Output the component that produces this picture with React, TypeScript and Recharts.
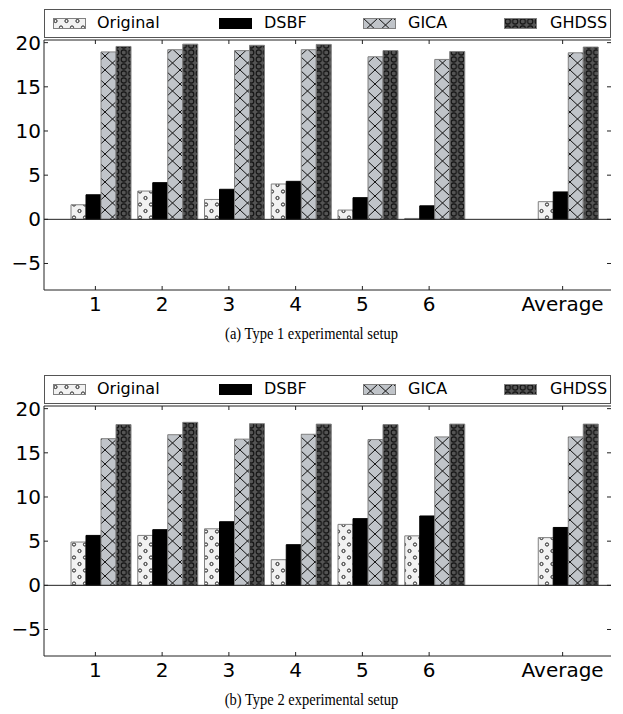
import { BarChart, Bar, XAxis, YAxis, ReferenceLine } from "recharts";

const categories = ["1", "2", "3", "4", "5", "6", "", "Average"];

const type1Original = [1.65, 3.2, 2.25, 4.0, 1.05, 0.1, null, 2.0];
const type1DSBF = [2.78, 4.15, 3.4, 4.3, 2.45, 1.53, null, 3.1];
const type1GICA = [18.95, 19.2, 19.1, 19.2, 18.4, 18.1, null, 18.85];
const type1GHDSS = [19.57, 19.83, 19.7, 19.8, 19.1, 19.0, null, 19.5];

const type2Original = [4.9, 5.65, 6.4, 2.9, 6.9, 5.6, null, 5.4];
const type2DSBF = [5.65, 6.3, 7.2, 4.6, 7.55, 7.85, null, 6.55];
const type2GICA = [16.6, 17.05, 16.55, 17.1, 16.5, 16.8, null, 16.8];
const type2GHDSS = [18.2, 18.45, 18.3, 18.25, 18.2, 18.25, null, 18.25];

const yTicks = [-5, 0, 5, 10, 15, 20];
const seriesNames = ["Original", "DSBF", "GICA", "GHDSS"];

// plot box (matches the chart margins below)
const PL = 44;
const PR = 611;
const PT = 40;
const PB = 290;

const FONT = "DejaVu Sans";
const SPINE = "#222";

const fills: Record<string, string> = {
  Original: "url(#hOrig)",
  DSBF: "#000",
  GICA: "url(#hCross)",
  GHDSS: "url(#hRing)",
};

function buildRows(o: (number | null)[], d: (number | null)[], g: (number | null)[], h: (number | null)[]) {
  return categories.map((c, i) => ({
    name: c,
    Original: o[i],
    DSBF: d[i],
    GICA: g[i],
    GHDSS: h[i],
  }));
}

function XTick(props: any) {
  const { x, y, payload } = props;
  if (!payload.value) return null;
  const tx = x - 6;
  return (
    <g>
      <line x1={tx} x2={tx} y1={PB} y2={PB - 4} stroke={SPINE} />
      <line x1={tx} x2={tx} y1={PT} y2={PT + 4} stroke={SPINE} />
      <text x={tx} y={y + 17} textAnchor="middle" fontSize={20} fontFamily={FONT} fill="#000">
        {payload.value}
      </text>
    </g>
  );
}

function YTick(props: any) {
  const { x, y, payload } = props;
  const v = payload.value as number;
  const label = v < 0 ? "\u2212" + Math.abs(v) : String(v);
  return (
    <g>
      <line x1={PL} x2={PL + 4} y1={y} y2={y} stroke={SPINE} />
      <line x1={PR - 4} x2={PR} y1={y} y2={y} stroke={SPINE} />
      <text x={x} y={y + 7} textAnchor="end" fontSize={20} fontFamily={FONT} fill="#000">
        {label}
      </text>
    </g>
  );
}

function Patterns() {
  return (
    <svg width={0} height={0} style={{ position: "absolute" }}>
      <defs>
        <pattern id="hOrig" patternUnits="userSpaceOnUse" width={11} height={13}>
          <rect width={11} height={13} fill="#f2f2f2" />
          <circle cx={2.5} cy={3} r={1.6} fill="none" stroke="#222" strokeWidth={1} />
          <circle cx={8} cy={9.5} r={1.6} fill="none" stroke="#222" strokeWidth={1} />
        </pattern>
        <pattern id="hCross" patternUnits="userSpaceOnUse" width={15} height={14}>
          <rect width={15} height={14} fill="#c0c4c9" />
          <line x1={0} y1={0} x2={15} y2={14} stroke="#111" strokeWidth={1} />
          <line x1={15} y1={0} x2={0} y2={14} stroke="#111" strokeWidth={1} />
        </pattern>
        <pattern id="hRing" patternUnits="userSpaceOnUse" width={7.5} height={7}>
          <rect width={7.5} height={7} fill="#555" />
          <circle cx={3.75} cy={3.5} r={2.6} fill="none" stroke="#111" strokeWidth={1.1} />
        </pattern>
      </defs>
    </svg>
  );
}

const legendSwatchX = [8, 174, 318, 459];
const legendTextX = [52, 219, 363, 505];

function LegendBox() {
  return (
    <div
      style={{
        position: "absolute",
        left: PL,
        top: 9,
        width: PR - PL - 2,
        height: 27,
        border: "1px solid #555",
        background: "#fff",
        fontFamily: FONT,
        fontSize: 16,
      }}
    >
      {seriesNames.map((n, i) => (
        <div key={n}>
          <svg
            width={33}
            height={11}
            style={{ position: "absolute", left: legendSwatchX[i], top: 8 }}
          >
            <rect
              x={0.5}
              y={0.5}
              width={32}
              height={10}
              fill={fills[n]}
              stroke={n === "DSBF" ? "#000" : "#808080"}
            />
          </svg>
          <span style={{ position: "absolute", left: legendTextX[i], top: 3, lineHeight: "20px" }}>{n}</span>
        </div>
      ))}
    </div>
  );
}

function Panel({ rows, caption }: { rows: any[]; caption: string }) {
  return (
    <div style={{ position: "relative", width: 623, height: 366 }}>
      <BarChart
        width={623}
        height={320}
        data={rows}
        margin={{ top: PT, right: 623 - PR, bottom: 0, left: 0 }}
        barGap={0}
      >
        <XAxis
          dataKey="name"
          interval={0}
          padding={{ left: 24, right: 9 }}
          height={30}
          tickSize={0}
          tickMargin={4}
          tickLine={false}
          axisLine={{ stroke: SPINE }}
          tick={<XTick />}
        />
        <YAxis
          domain={[-8, 20.3]}
          ticks={yTicks}
          allowDataOverflow
          width={PL}
          tickSize={0}
          tickMargin={3}
          tickLine={false}
          axisLine={{ stroke: SPINE }}
          tick={<YTick />}
        />
        <YAxis
          yAxisId="r"
          orientation="right"
          domain={[-8, 20.3]}
          allowDataOverflow
          width={0}
          tick={false}
          tickLine={false}
          axisLine={{ stroke: SPINE }}
        />
        <ReferenceLine y={20.3} stroke={SPINE} ifOverflow="extendDomain" />
        {seriesNames.map((n) => (
          <Bar
            key={n}
            dataKey={n}
            barSize={15}
            fill={fills[n]}
            stroke={n === "DSBF" ? "#000" : "#808080"}
            strokeWidth={1}
            isAnimationActive={false}
          />
        ))}
        <ReferenceLine y={0} stroke={SPINE} />
      </BarChart>
      <LegendBox />
      <div
        style={{
          position: "absolute",
          top: 323,
          left: 0,
          width: 623,
          textAlign: "center",
          fontFamily: "Liberation Serif",
          fontSize: 16.5,
          lineHeight: "22px",
          transform: "scaleX(0.88)",
        }}
      >
        {caption}
      </div>
    </div>
  );
}

export default function App() {
  const rows1 = buildRows(type1Original, type1DSBF, type1GICA, type1GHDSS);
  const rows2 = buildRows(type2Original, type2DSBF, type2GICA, type2GHDSS);
  return (
    <div style={{ position: "relative", width: 623, background: "#fff" }}>
      <style>{`body{margin:0;}`}</style>
      <Patterns />
      <Panel rows={rows1} caption="(a) Type 1 experimental setup" />
      <Panel rows={rows2} caption="(b) Type 2 experimental setup" />
    </div>
  );
}
